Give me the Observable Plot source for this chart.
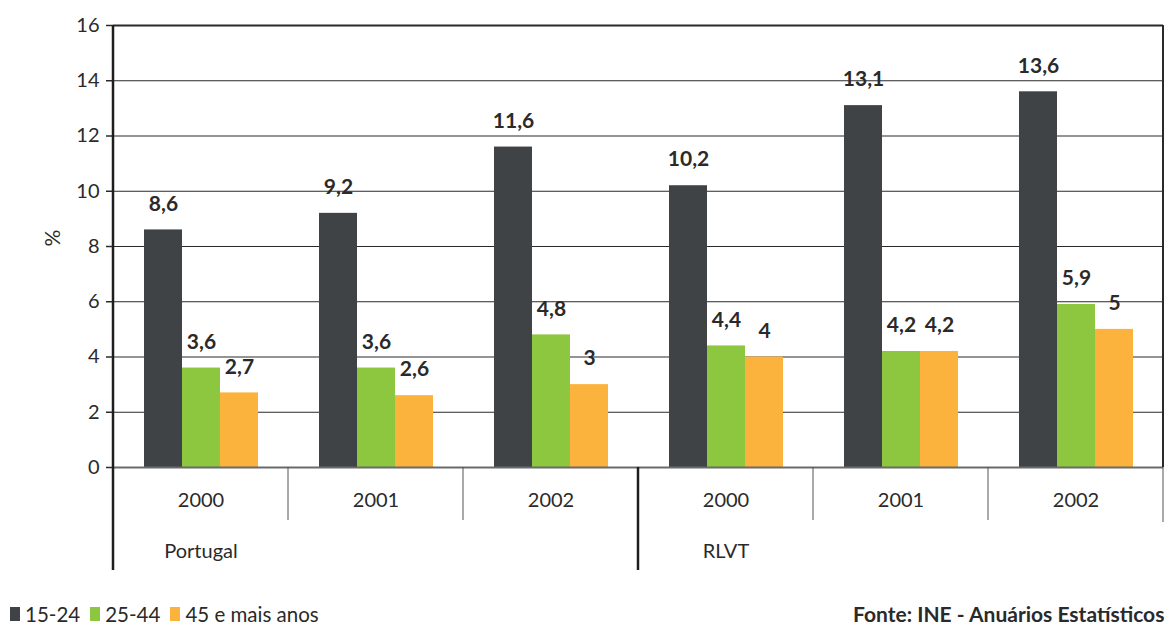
<!DOCTYPE html>
<html>
<head>
<meta charset="utf-8">
<script src="https://cdn.jsdelivr.net/npm/d3@7"></script>
<script src="https://cdn.jsdelivr.net/npm/@observablehq/plot@0.6"></script>
<style>
  html, body { margin: 0; padding: 0; background: #fff; }
  #wrap { position: relative; width: 1176px; height: 625px; overflow: hidden; font-family: Lato, "Open Sans", sans-serif; color: #2a2a2a; }
  #chart { position: absolute; left: 0; top: 0; }
  #legend { position: absolute; left: 10px; top: 603px; height: 22px; line-height: 22px; display: flex; align-items: center; font-size: 20.5px; white-space: nowrap; }
  #legend .sw { display: inline-block; width: 10px; height: 14px; margin-right: 5px; }
  #legend .item { display: flex; align-items: center; margin-right: 10px; }
  #source { position: absolute; left: 853px; top: 603px; height: 22px; line-height: 22px; font-size: 21px; font-weight: bold; white-space: nowrap; color: #2a2a2a; }
</style>
</head>
<body>
<div id="wrap">
  <div id="chart"></div>
  <div id="legend"></div>
  <div id="source">Fonte: INE - Anuários Estatísticos</div>
</div>
<script>
// ---- data ----
const regions = ["Portugal", "Portugal", "Portugal", "RLVT", "RLVT", "RLVT"];
const years = ["2000", "2001", "2002", "2000", "2001", "2002"];
const series = ["15-24", "25-44", "45 e mais anos"];
const values1524 = [8.6, 9.2, 11.6, 10.2, 13.1, 13.6];
const values2544 = [3.6, 3.6, 4.8, 4.4, 4.2, 5.9];
const values45 = [2.7, 2.6, 3, 4, 4.2, 5];
const seriesColors = ["#404346", "#8dc63f", "#fbb33d"];
const yTicks = [0, 2, 4, 6, 8, 10, 12, 14, 16];
const yLabel = "%";

// ---- tables built from data ----
const seriesValues = [values1524, values2544, values45];
const groups = regions.map((r, i) => ({
  key: r + "|" + years[i],
  region: r,
  year: years[i],
  idx: i,
  first: i === 0 || regions[i - 1] !== r,
  last: i === regions.length - 1
}));
const rows = groups.flatMap((g, i) =>
  series.map((s, j) => ({ key: g.key, series: s, value: seriesValues[j][i] }))
);
const fmt = v => String(v).replace(".", ",");
const yearOf = Object.fromEntries(groups.map(g => [g.key, g.year]));
const regionOf = Object.fromEntries(groups.map(g => [g.key, g.region]));

const yMax = yTicks[yTicks.length - 1];

// frame sides and separators of the category table below the x axis
function separators(index, scales, values, dims) {
  const g = d3.create("svg:g").attr("fill", "none");
  const y = scales.y;
  const x0 = dims.marginLeft;
  const x1 = dims.width - dims.marginRight;
  const base = y(0);
  for (const i of index) {
    const d = groups[i];
    if (d.idx === 0) {
      g.append("line").attr("x1", x0).attr("x2", x0).attr("y1", y(yMax)).attr("y2", base + 103)
        .attr("stroke", "#1e1e1e").attr("stroke-width", 2.5);
    } else if (d.first) {
      g.append("line").attr("x1", x0).attr("x2", x0).attr("y1", base).attr("y2", base + 103)
        .attr("stroke", "#1e1e1e").attr("stroke-width", 2.5);
    } else {
      g.append("line").attr("x1", x0).attr("x2", x0).attr("y1", base).attr("y2", base + 53)
        .attr("stroke", "#555").attr("stroke-width", 1);
    }
    if (d.last) {
      g.append("line").attr("x1", x1).attr("x2", x1).attr("y1", y(yMax)).attr("y2", base)
        .attr("stroke", "#2a2a2a").attr("stroke-width", 2);
      g.append("line").attr("x1", x1).attr("x2", x1).attr("y1", base).attr("y2", base + 55)
        .attr("stroke", "#555").attr("stroke-width", 1);
    }
  }
  return g.node();
}

const chart = Plot.plot({
  width: 1176,
  height: 590,
  marginTop: 25,
  marginLeft: 112,
  marginRight: 13,
  marginBottom: 123,
  style: { fontFamily: "Lato, 'Open Sans', sans-serif", fontSize: "20px", color: "#2a2a2a", background: "transparent" },
  fx: { domain: groups.map(g => g.key), paddingInner: 0, paddingOuter: 0 },
  x: { domain: series, paddingInner: 0, paddingOuter: 0.8, axis: null },
  y: { domain: [0, yMax] },
  color: { domain: series, range: seriesColors },
  marks: [
    Plot.ruleY(yTicks.slice(1, -1), { stroke: "#2a2a2a", strokeWidth: 1.2 }),
    Plot.ruleY([yMax], { stroke: "#2a2a2a", strokeWidth: 2 }),
    Plot.barY(rows, { fx: "key", x: "series", y: "value", fill: "series" }),
    Plot.ruleY([0], { stroke: "#6a6a6a", strokeWidth: 2 }),
    Plot.text(rows, {
      fx: "key", x: "series", y: "value", text: d => fmt(d.value),
      dy: -26, fontWeight: "bold", fontSize: 21, fill: "#2a2a2a"
    }),
    Plot.axisY({
      ticks: yTicks, tickSize: 7, tickPadding: 7, tickFormat: d => String(d),
      label: null, fontSize: 20, stroke: "#2a2a2a", strokeWidth: 1.5
    }),
    Plot.text([yLabel], {
      fx: () => groups[0].key, frameAnchor: "left", dx: -60, rotate: -90,
      fontSize: 21, fill: "#2a2a2a"
    }),
    Plot.axisFx({
      anchor: "bottom", tickSize: 0, tickPadding: 25, label: null,
      tickFormat: k => yearOf[k], fontSize: 20
    }),
    Plot.axisFx({
      anchor: "bottom", tickSize: 0, tickPadding: 76, label: null,
      ticks: groups.filter(g => g.first).map(g => g.key),
      tickFormat: k => regionOf[k], fontSize: 20
    }),
    Plot.rect(groups, { fx: "key", render: separators })
  ]
});
document.getElementById("chart").appendChild(chart);

// legend
const legend = d3.select("#legend");
series.forEach((s, i) => {
  const item = legend.append("span").attr("class", "item");
  item.append("span").attr("class", "sw").style("background", seriesColors[i]);
  item.append("span").text(s);
});
</script>
</body>
</html>
